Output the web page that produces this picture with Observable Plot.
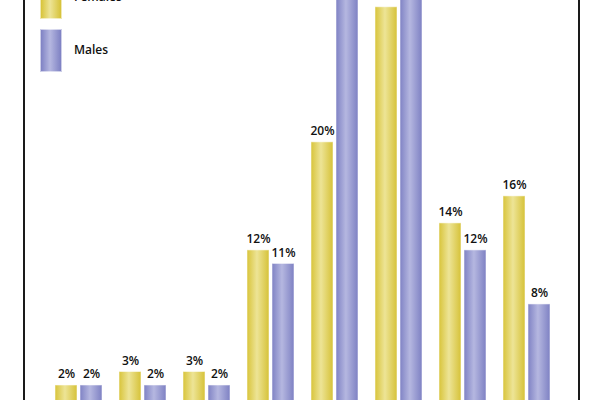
<!DOCTYPE html>
<html>
<head>
<meta charset="utf-8">
<script src="https://cdn.jsdelivr.net/npm/d3@7"></script>
<script src="https://cdn.jsdelivr.net/npm/@observablehq/plot@0.6"></script>
<style>
  html, body { margin: 0; padding: 0; background: #fff; overflow: hidden; }
  #wrap { position: relative; width: 600px; height: 400px; overflow: hidden; font-family: "Open Sans", sans-serif; }
  #border { position: absolute; left: 23px; top: -10px; width: 553px; height: 430px; border-left: 2px solid #1a1a1a; border-right: 2px solid #1a1a1a; }
  .sw { position: absolute; left: 40px; width: 22px; height: 43px; box-sizing: border-box; border: 1px solid rgba(255,255,255,0.6); }
  .lt { position: absolute; left: 74px; font-size: 12px; font-weight: 600; color: #111; line-height: 14px; }
</style>
</head>
<body>
<div id="wrap">
  <div id="chart"></div>
  <div id="border"></div>
  <div class="sw" style="top:-24px;background:linear-gradient(90deg,#d8c43a,#ede496 45%,#d6c238)"></div>
  <div class="lt" style="top:-10px">Females</div>
  <div class="sw" style="top:29px;background:linear-gradient(90deg,#7f82c4,#b5b7e0 45%,#7e81c3)"></div>
  <div class="lt" style="top:43px">Males</div>
</div>
<script>
const groups = ["G1", "G2", "G3", "G4", "G5", "G6", "G7", "G8"];
const females = [2, 3, 3, 12, 20, 30, 14, 16];
const males = [2, 2, 2, 11, 31, 32, 12, 8];
const sexes = ["Females", "Males"];

const data = [];
groups.forEach((g, i) => {
  data.push({group: g, sex: "Females", value: females[i]});
  data.push({group: g, sex: "Males", value: males[i]});
});

const plot = Plot.plot({
  width: 600,
  height: 400,
  marginLeft: 53.5,
  marginRight: 48.5,
  marginTop: 0,
  marginBottom: 0,
  facet: {data, x: "group", marginLeft: 0, marginRight: 0, marginTop: 0, marginBottom: 0},
  fx: {domain: groups, paddingInner: 0.236, paddingOuter: 0, axis: null, label: null},
  x: {domain: sexes, paddingInner: 0.078, paddingOuter: 0, axis: null, label: null},
  y: {domain: [0, 30.5], range: [412, 0], axis: null, label: null},
  style: {background: "transparent", overflow: "hidden"},
  marks: [
    Plot.barY(data, {x: "sex", y: "value", fill: d => d.sex === "Females" ? "url(#gradF)" : "url(#gradM)", stroke: "rgba(255,255,255,0.55)", strokeWidth: 1, insetLeft: 0.5, insetRight: 0.5}),
    Plot.text(data, {x: "sex", y: "value", text: d => d.value + "%", dy: -7, lineAnchor: "bottom", fontSize: 12, fontWeight: 600, fill: "#111", fontFamily: "Open Sans"})
  ]
});

const defs = d3.select(plot).insert("defs", ":first-child");
function grad(id, a, b, c) {
  const g = defs.append("linearGradient").attr("id", id).attr("x1", "0").attr("x2", "1").attr("y1", "0").attr("y2", "0");
  g.append("stop").attr("offset", "0%").attr("stop-color", a);
  g.append("stop").attr("offset", "45%").attr("stop-color", b);
  g.append("stop").attr("offset", "100%").attr("stop-color", c);
}
grad("gradF", "#d8c43a", "#ede496", "#d6c238");
grad("gradM", "#7f82c4", "#b5b7e0", "#7e81c3");

document.getElementById("chart").appendChild(plot);
</script>
</body>
</html>
